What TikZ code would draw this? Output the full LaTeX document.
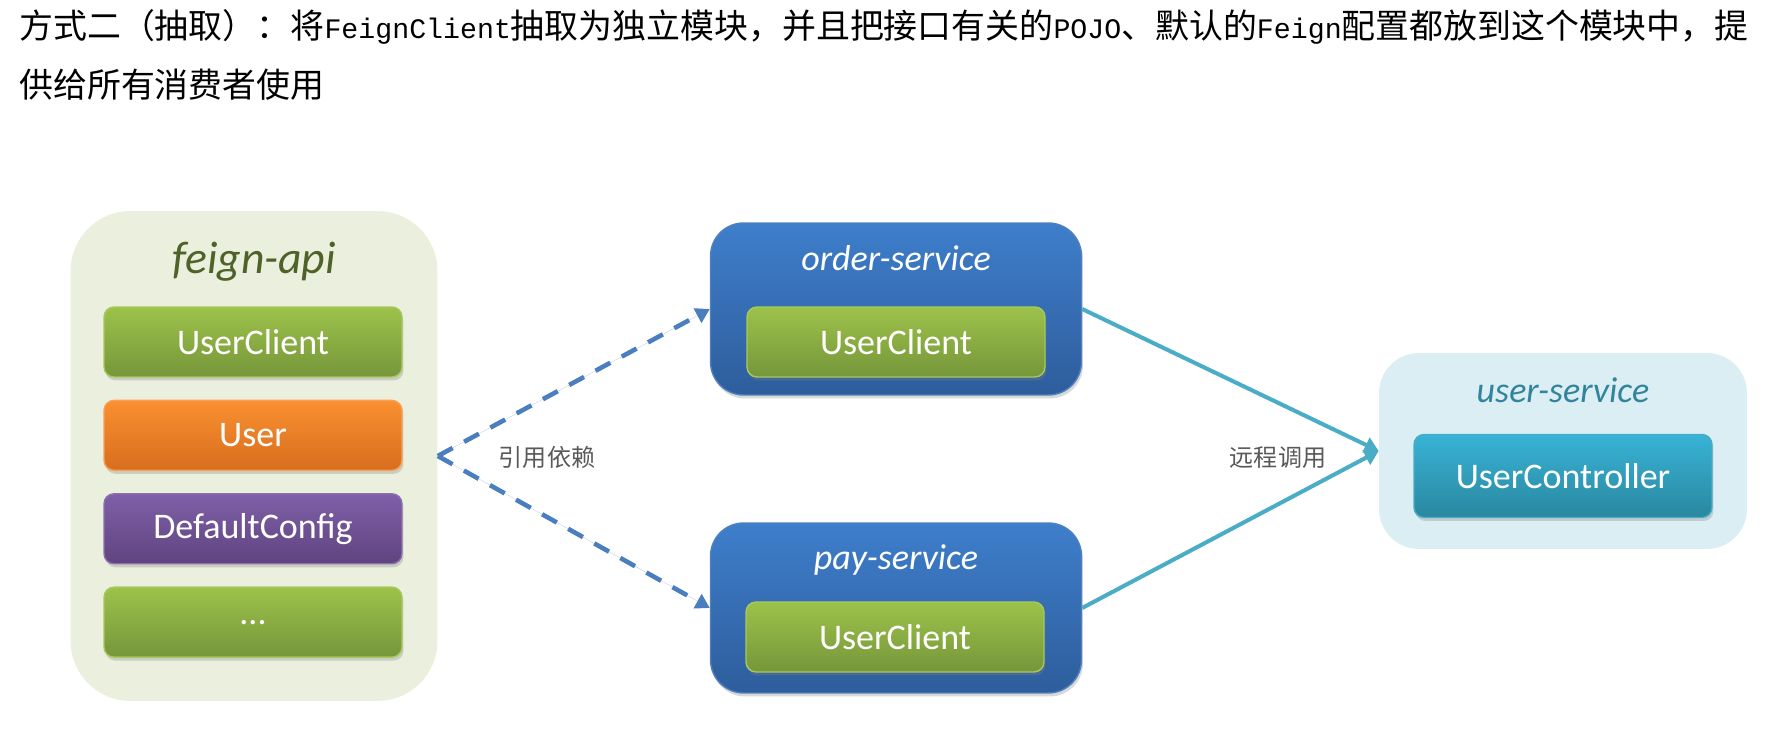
\documentclass[tikz,border=0pt]{standalone}
\usepackage{fontspec}
\setmainfont{Carlito}
\newfontfamily\cjk{Noto Sans CJK SC}
\newfontfamily\latmono[Scale=0.833]{Liberation Mono}
\usetikzlibrary{positioning,arrows.meta,shadows}
\definecolor{greentop}{HTML}{9DC24A}
\definecolor{greenbot}{HTML}{76963A}
\definecolor{greenedge}{HTML}{A6C95E}
\definecolor{orangetop}{HTML}{FA9030}
\definecolor{orangebot}{HTML}{D76E1E}
\definecolor{orangeedge}{HTML}{F7A155}
\definecolor{purpletop}{HTML}{7F5FA8}
\definecolor{purplebot}{HTML}{5F447F}
\definecolor{purpleedge}{HTML}{8C70AE}
\definecolor{bluetop}{HTML}{3E7ECB}
\definecolor{bluebot}{HTML}{2E5D9C}
\definecolor{blueedge}{HTML}{4F81BD}
\definecolor{tealtop}{HTML}{38B3D6}
\definecolor{tealbot}{HTML}{2A879F}
\definecolor{tealedge}{HTML}{4BACC6}
\definecolor{apibg}{HTML}{EBF0DE}
\definecolor{apititle}{HTML}{4F6228}
\definecolor{userbg}{HTML}{DBEEF4}
\definecolor{usertitle}{HTML}{31849B}
\definecolor{depblue}{HTML}{4A7EBF}
\definecolor{callteal}{HTML}{4BACC6}
\definecolor{lblgray}{HTML}{595959}

\begin{document}
\begin{tikzpicture}[x=0.02cm,y=-0.02cm,
  softshadow/.style={drop shadow={shadow xshift=0.03cm,shadow yshift=-0.07cm,opacity=0.3}},
  item/.style={rounded corners=0.2cm,minimum width=5.96cm,minimum height=1.4cm,
    text=white,font=\fontsize{20.5}{24}\selectfont,line width=0.8pt,softshadow},
  greenitem/.style={item,top color=greentop,bottom color=greenbot,draw=greenedge},
  orangeitem/.style={item,top color=orangetop,bottom color=orangebot,draw=orangeedge},
  purpleitem/.style={item,top color=purpletop,bottom color=purplebot,draw=purpleedge},
  tealitem/.style={item,top color=tealtop,bottom color=tealbot,draw=tealedge},
  service/.style={rounded corners=0.66cm,minimum width=7.42cm,minimum height=3.44cm,
    top color=bluetop,bottom color=bluebot,draw=blueedge,line width=0.8pt,softshadow},
  title/.style={font=\itshape\fontsize{20.5}{24}\selectfont},
  lbl/.style={font=\cjk\fontsize{13.7}{16}\selectfont,text=lblgray},
  dep/.style={-{Triangle[length=8pt,width=9pt]},draw=depblue,fill=depblue,line width=2.6pt,dash pattern=on 9.6pt off 7.4pt},
  call/.style={-{Triangle[length=8pt,width=9pt]},draw=callteal,fill=callteal,line width=2.3pt}]
\useasboundingbox (0,0) rectangle (1779,732);
% 说明文字
\node[anchor=west,inner sep=0pt,font=\cjk\fontsize{19.3}{24}\selectfont] (head1) at (19,27)
  {方式二（抽取）：将{\latmono FeignClient}抽取为独立模块，并且把接口有关的{\latmono POJO}、默认的{\latmono Feign}配置都放到这个模块中，提};
\node[anchor=west,inner sep=0pt,font=\cjk\fontsize{19.3}{24}\selectfont] (head2) at (19,85)
  {供给所有消费者使用};
% feign-api 模块
\node[fill=apibg,rounded corners=1.2cm,minimum width=7.34cm,minimum height=9.8cm] (feignapi) at (254,456) {};
\node[title,font=\itshape\fontsize{26}{30}\selectfont,text=apititle] (apititle) at (254,262) {feign-api};
\node[greenitem] (apiclient) at (253,342) {UserClient};
\node[orangeitem,below=0.44cm of apiclient] (apiuser) {User};
\node[purpleitem,below=0.44cm of apiuser] (apiconfig) {DefaultConfig};
\node[greenitem,below=0.44cm of apiconfig] (apimore) {...};
% 消费者
\node[service] (order) at (896,309) {};
\node[title,text=white] (ordertitle) at (896,258) {order-service};
\node[greenitem] (orderclient) at (896,342) {UserClient};
\node[service,minimum height=3.4cm] (pay) at (896,608) {};
\node[title,text=white] (paytitle) at (896,560) {pay-service};
\node[greenitem] (payclient) at (895,637) {UserClient};
% 提供者
\node[fill=userbg,rounded corners=0.8cm,minimum width=7.36cm,minimum height=3.92cm] (user) at (1563,451) {};
\node[title,text=usertitle] (usertitle) at (1563,390) {user-service};
\node[tealitem,minimum height=1.66cm] (usercontroller) at (1563,476) {UserController};
% 连线
\draw[dep] (feignapi.east) -- (order.west);
\draw[dep] (feignapi.east) -- (pay.west);
\draw[call] (order.east) -- (user.west);
\draw[call] (pay.east) -- (user.west);
\node[lbl] (deplbl) at (547,457) {引用依赖};
\node[lbl] (calllbl) at (1278,458) {远程调用};
\end{tikzpicture}
\end{document}
